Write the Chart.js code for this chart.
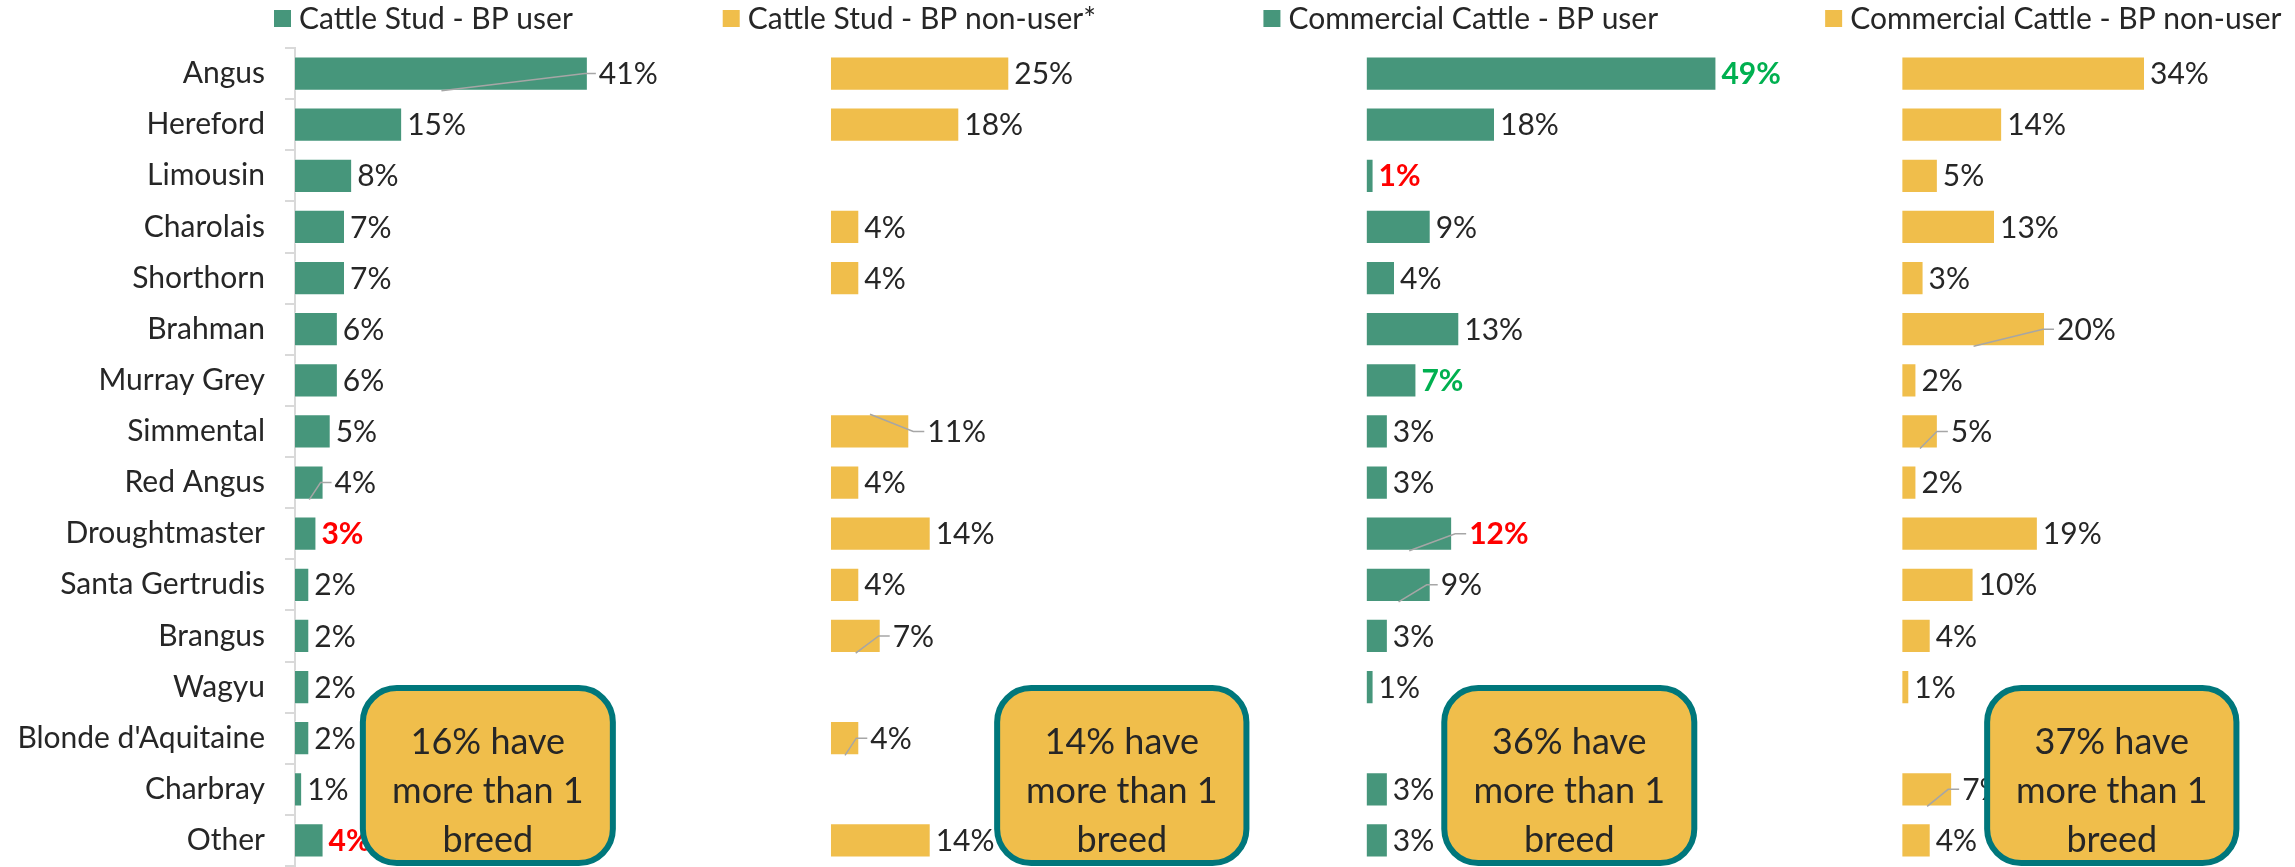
<!DOCTYPE html>
<html>
<head>
<meta charset="utf-8">
<script src="https://cdn.jsdelivr.net/npm/chart.js@4.4.1/dist/chart.umd.min.js"></script>
<style>
  html, body { margin: 0; padding: 0; background: #fff; }
</style>
</head>
<body>
<canvas id="chart" width="2295" height="867"></canvas>
<script>
// Breeds used, by segment and by BP use (percent of respondents)
const breeds = ['Angus', 'Hereford', 'Limousin', 'Charolais', 'Shorthorn', 'Brahman', 'Murray Grey',
    'Simmental', 'Red Angus', 'Droughtmaster', 'Santa Gertrudis', 'Brangus', 'Wagyu',
    'Blonde d\'Aquitaine', 'Charbray', 'Other'];

const seriesNames = ['Cattle Stud - BP user', 'Cattle Stud - BP non-user*',
    'Commercial Cattle - BP user', 'Commercial Cattle - BP non-user'];

const studUser       = [41, 15, 8, 7, 7, 6, 6, 5, 4, 3, 2, 2, 2, 2, 1, 4];
const studNonUser    = [25, 18, null, 4, 4, null, null, 11, 4, 14, 4, 7, null, 4, null, 14];
const commUser       = [49, 18, 1, 9, 4, 13, 7, 3, 3, 12, 9, 3, 1, null, 3, 3];
const commNonUser    = [34, 14, 5, 13, 3, 20, 2, 5, 2, 19, 10, 4, 1, null, 7, 4];

const multiBreed = ['16%', '14%', '36%', '37%'];

(function () {
    'use strict';

    const green = '#46967B';
    const yellow = '#F0BE4B';
    const teal = '#00777B';
    const ink = '#262626';
    const axisGrey = '#D9D9D9';
    const leaderGrey = '#A6A6A6';
    const FONT = 'Lato';

    Chart.defaults.font.family = FONT;
    Chart.defaults.color = ink;

    // each panel gets its own value axis, laid side by side; the weight keeps
    // the same number of pixels per percent in every panel
    const panelMax = [75, 75, 75, 55];
    const legendShift = [-21, -108, -103, -77];
    const boxSpan = [[9.5, 44.5], [23.3, 58.2], [10.9, 45.9], [11.9, 46.8]];

    // bold, coloured labels: dataset index -> breed index -> colour
    const emphasis = [
        { 9: '#FF0000', 15: '#FF0000' },
        {},
        { 0: '#00B050', 2: '#FF0000', 6: '#00B050', 9: '#FF0000' },
        {}
    ];

    // labels that Excel pushed aside: [dataset, breed, edge the leader goes to, gap in px]
    const leaders = [
        [0, 0, 'bottom', 11], [0, 8, 'bottom', 11],
        [1, 7, 'top', 18], [1, 11, 'bottom', 12], [1, 13, 'bottom', 11],
        [2, 9, 'bottom', 17], [2, 10, 'bottom', 10],
        [3, 5, 'bottom', 12], [3, 7, 'bottom', 13], [3, 14, 'bottom', 10]
    ];

    const values = [studUser, studNonUser, commUser, commNonUser];
    const colours = [green, yellow, green, yellow];

    const scales = {
        y: {
            type: 'category',
            position: 'left',
            offset: true,
            grid: { display: true, drawOnChartArea: false, drawTicks: true, tickLength: 10, offset: true, color: axisGrey, lineWidth: 2 },
            border: { display: true, color: axisGrey, width: 2 },
            ticks: { color: ink, font: { size: 30 }, padding: 20, autoSkip: false },
            afterFit: function (s) {
                s.width = 295;
                s.paddingTop = 0;
                s.paddingBottom = 0;
            }
        }
    };
    panelMax.forEach(function (max, i) {
        scales['x' + i] = {
            type: 'linear', position: 'bottom', stack: 'panels', stackWeight: max,
            min: 0, max: max, display: false
        };
    });

    function leaderFor(di, i) {
        for (let k = 0; k < leaders.length; k++) {
            if (leaders[k][0] === di && leaders[k][1] === i) return leaders[k];
        }
        return null;
    }

    const valueLabels = {
        id: 'valueLabels',
        afterDatasetsDraw: function (chart) {
            const ctx = chart.ctx;
            ctx.save();
            ctx.textBaseline = 'middle';
            ctx.textAlign = 'left';
            chart.data.datasets.forEach(function (ds, di) {
                chart.getDatasetMeta(di).data.forEach(function (bar, i) {
                    const v = ds.data[i];
                    if (v === null || v === undefined) return;
                    const lead = leaderFor(di, i);
                    const tx = bar.x + (lead ? lead[3] : 5);
                    if (lead) {
                        const half = bar.height / 2;
                        const ay = lead[2] === 'top' ? bar.y - half : bar.y + half;
                        ctx.beginPath();
                        ctx.moveTo(tx - 3, bar.y);
                        ctx.lineTo(tx - 14, bar.y);
                        ctx.lineTo((bar.base + bar.x) / 2, ay);
                        ctx.lineWidth = 1.5;
                        ctx.strokeStyle = leaderGrey;
                        ctx.stroke();
                    }
                    const c = emphasis[di][i];
                    ctx.font = (c ? 'bold ' : '') + '30px ' + FONT;
                    ctx.fillStyle = c || ink;
                    ctx.fillText(v + '%', tx, bar.y + 1);
                });
            });
            ctx.restore();
        }
    };

    const noteBoxes = {
        id: 'noteBoxes',
        afterDatasetsDraw: function (chart) {
            const ctx = chart.ctx;
            const y = chart.scales.y;
            const top = y.getPixelForValue(12.02);
            const bottom = y.getPixelForValue(15.5) - 3;
            ctx.save();
            multiBreed.forEach(function (share, i) {
                const x = chart.scales['x' + i];
                const l = x.getPixelForValue(boxSpan[i][0]);
                const r = x.getPixelForValue(boxSpan[i][1]);
                ctx.beginPath();
                ctx.roundRect(l, top, r - l, bottom - top, 34);
                ctx.fillStyle = yellow;
                ctx.fill();
                ctx.lineWidth = 6;
                ctx.strokeStyle = teal;
                ctx.stroke();

                ctx.fillStyle = ink;
                ctx.font = '36px ' + FONT;
                ctx.textAlign = 'center';
                ctx.textBaseline = 'middle';
                const cx = (l + r) / 2;
                const cy = (top + bottom) / 2 + 16;
                [share + ' have', 'more than 1', 'breed'].forEach(function (line, k) {
                    ctx.fillText(line, cx, cy + (k - 1) * 49);
                });
            });
            ctx.restore();
        }
    };

    const panelLegend = {
        id: 'panelLegend',
        afterDraw: function (chart) {
            const ctx = chart.ctx;
            ctx.save();
            ctx.font = '30px ' + FONT;
            ctx.textBaseline = 'middle';
            ctx.textAlign = 'left';
            chart.data.datasets.forEach(function (ds, i) {
                const x = chart.scales['x' + i].left + legendShift[i];
                ctx.fillStyle = ds.backgroundColor;
                ctx.fillRect(x, 10, 17, 17);
                ctx.fillStyle = ink;
                ctx.fillText(ds.label, x + 25, 19);
            });
            ctx.restore();
        }
    };

    new Chart(document.getElementById('chart'), {
        type: 'bar',
        data: {
            labels: breeds,
            datasets: values.map(function (data, i) {
                return {
                    label: seriesNames[i],
                    data: data,
                    xAxisID: 'x' + i,
                    yAxisID: 'y',
                    backgroundColor: colours[i],
                    borderColor: 'rgba(255,255,255,0.5)',
                    borderWidth: 1,
                    grouped: false,
                    categoryPercentage: 1,
                    barPercentage: 0.67
                };
            })
        },
        options: {
            indexAxis: 'y',
            responsive: false,
            animation: false,
            layout: { padding: { top: 48, bottom: 1, left: 0, right: 0 } },
            plugins: { legend: { display: false }, tooltip: { enabled: false } },
            scales: scales
        },
        plugins: [valueLabels, noteBoxes, panelLegend]
    });
})();
</script>
</body>
</html>
